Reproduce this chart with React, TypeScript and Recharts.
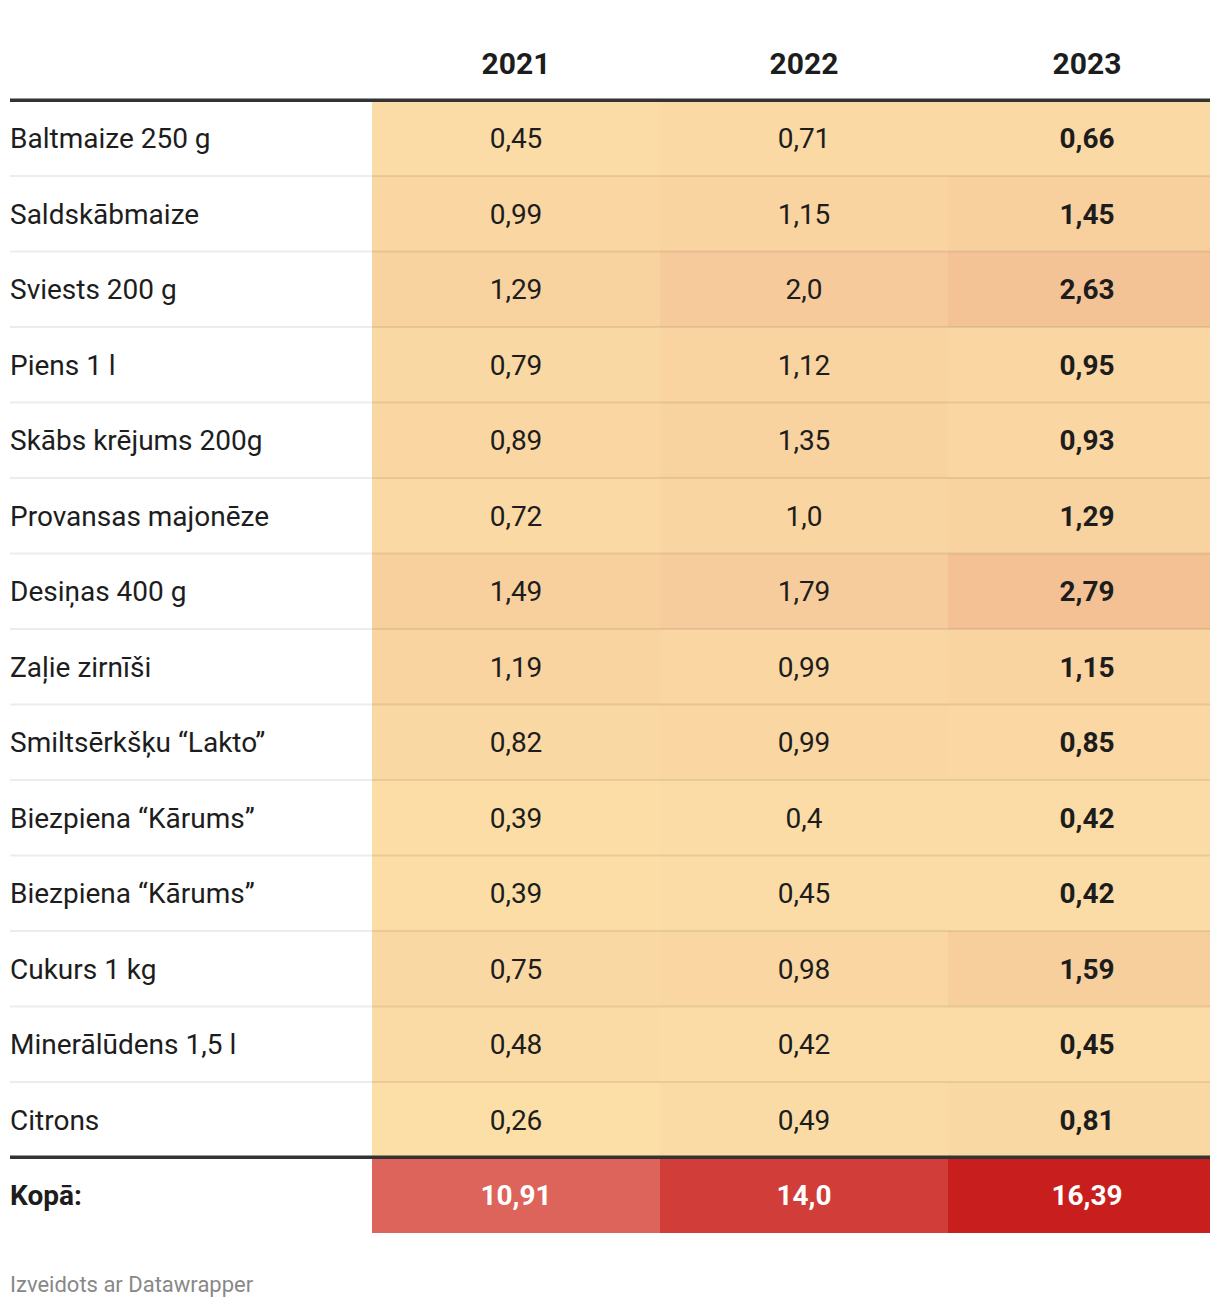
import { BarChart, Bar, XAxis, YAxis } from 'recharts'

// row labels and prices (EUR) per year
const rowLabels = [
  'Baltmaize 250 g',
  'Saldskābmaize',
  'Sviests 200 g',
  'Piens 1 l',
  'Skābs krējums 200g',
  'Provansas majonēze',
  'Desiņas 400 g',
  'Zaļie zirnīši',
  'Smiltsērkšķu “Lakto”',
  'Biezpiena “Kārums”',
  'Biezpiena “Kārums”',
  'Cukurs 1 kg',
  'Minerālūdens 1,5 l',
  'Citrons',
]
const years = ['2021', '2022', '2023']
const values2021 = [0.45, 0.99, 1.29, 0.79, 0.89, 0.72, 1.49, 1.19, 0.82, 0.39, 0.39, 0.75, 0.48, 0.26]
const values2022 = [0.71, 1.15, 2.0, 1.12, 1.35, 1.0, 1.79, 0.99, 0.99, 0.4, 0.45, 0.98, 0.42, 0.49]
const values2023 = [0.66, 1.45, 2.63, 0.95, 0.93, 1.29, 2.79, 1.15, 0.85, 0.42, 0.42, 1.59, 0.45, 0.81]
const totals = [10.91, 14.0, 16.39]
const totalLabel = 'Kopā:'

const columns = [values2021, values2022, values2023]

// column spans in axis units (1 unit = 1px); the last column runs past the visible edge
const LABEL_SPAN = 362
const COL_SPANS = [288, 288, 278]
const FULL = LABEL_SPAN + COL_SPANS.reduce((a, b) => a + b, 0)

const FONT = 'Roboto, sans-serif'
const TEXT = '#1d1d1d'

// heatmap colour stops (value -> colour)
const stops: [number, [number, number, number]][] = [
  [0.26, [252, 222, 167]],
  [2.79, [243, 193, 148]],
  [10.91, [220, 100, 90]],
  [16.39, [200, 30, 30]],
]

function heat(v: number) {
  if (v <= stops[0][0]) return `rgb(${stops[0][1].join(',')})`
  for (let i = 1; i < stops.length; i++) {
    const [v1, c1] = stops[i]
    const [v0, c0] = stops[i - 1]
    if (v <= v1) {
      const t = (v - v0) / (v1 - v0)
      const c = c0.map((a, k) => Math.round(a + (c1[k] - a) * t))
      return `rgb(${c.join(',')})`
    }
  }
  return `rgb(${stops[stops.length - 1][1].join(',')})`
}

function fmt(v: number) {
  let s = v.toFixed(2)
  if (s.endsWith('0')) s = s.slice(0, -1)
  return s.replace('.', ',')
}

type Row = { key: string; kind: 'header' | 'data' | 'total'; idx: number; label: string; vals: number[] }

const rows: Row[] = [
  { key: 'h', kind: 'header', idx: 0, label: '', vals: [] },
  ...rowLabels.map((label, i) => ({
    key: 'r' + i,
    kind: 'data' as const,
    idx: i + 1,
    label,
    vals: columns.map((c) => c[i]),
  })),
  { key: 't', kind: 'total', idx: rowLabels.length + 1, label: totalLabel, vals: totals },
]

function rowLines(row: Row, x: number, y: number, w: number) {
  if (row.kind === 'total' || row.idx === 1) {
    return <rect x={x} y={y - 2} width={w} height={3.5} fill="#333" />
  }
  if (row.kind === 'data') {
    return <rect x={x} y={y - 1} width={w} height={2} fill="rgba(0,0,0,0.075)" />
  }
  return null
}

function LabelCell(props: any) {
  const { x, y, width, height, payload } = props
  const row = payload as Row
  return (
    <g>
      {rowLines(row, x, y, width)}
      <text
        x={x}
        y={y + height / 2}
        dominantBaseline="central"
        fontFamily={FONT}
        fontSize={28}
        fontWeight={row.kind === 'total' ? 700 : 400}
        fill={TEXT}
      >
        {row.label}
      </text>
    </g>
  )
}

function makeValueCell(col: number) {
  return function ValueCell(props: any) {
    const { x, y, width, height, payload } = props
    const row = payload as Row
    const cx = x + width / 2
    const cy = y + height / 2
    if (row.kind === 'header') {
      return (
        <text x={cx} y={cy} textAnchor="middle" dominantBaseline="central" fontFamily={FONT} fontSize={30} fontWeight={700} fill={TEXT}>
          {years[col]}
        </text>
      )
    }
    const v = row.vals[col]
    const isTotal = row.kind === 'total'
    return (
      <g>
        <rect x={x} y={y} width={width} height={height} fill={heat(v)} />
        {rowLines(row, x, y, width)}
        <text
          x={cx}
          y={cy}
          textAnchor="middle"
          dominantBaseline="central"
          fontFamily={FONT}
          fontSize={28}
          fontWeight={isTotal || col === 2 ? 700 : 400}
          fill={isTotal ? '#fff' : TEXT}
        >
          {fmt(v)}
        </text>
      </g>
    )
  }
}

export default function App() {
  return (
    <div style={{ padding: '17px 0 0 2px', fontFamily: FONT }}>
      <div style={{ width: 1200, overflow: 'hidden' }}>
        <BarChart
          width={FULL}
          height={1208}
          data={rows}
          layout="vertical"
          barCategoryGap={0}
          barGap={0}
          margin={{ top: 0, right: 0, bottom: 0, left: 0 }}
        >
          <XAxis type="number" domain={[0, FULL]} hide />
          <YAxis type="category" dataKey="key" hide />
          <Bar dataKey={() => LABEL_SPAN} stackId="t" shape={LabelCell} isAnimationActive={false} />
          {COL_SPANS.map((span, i) => (
            <Bar key={i} dataKey={() => span} stackId="t" shape={makeValueCell(i)} isAnimationActive={false} />
          ))}
        </BarChart>
      </div>
      <div style={{ marginTop: 39, fontSize: 22, lineHeight: '26px', color: '#888' }}>Izveidots ar Datawrapper</div>
    </div>
  )
}
